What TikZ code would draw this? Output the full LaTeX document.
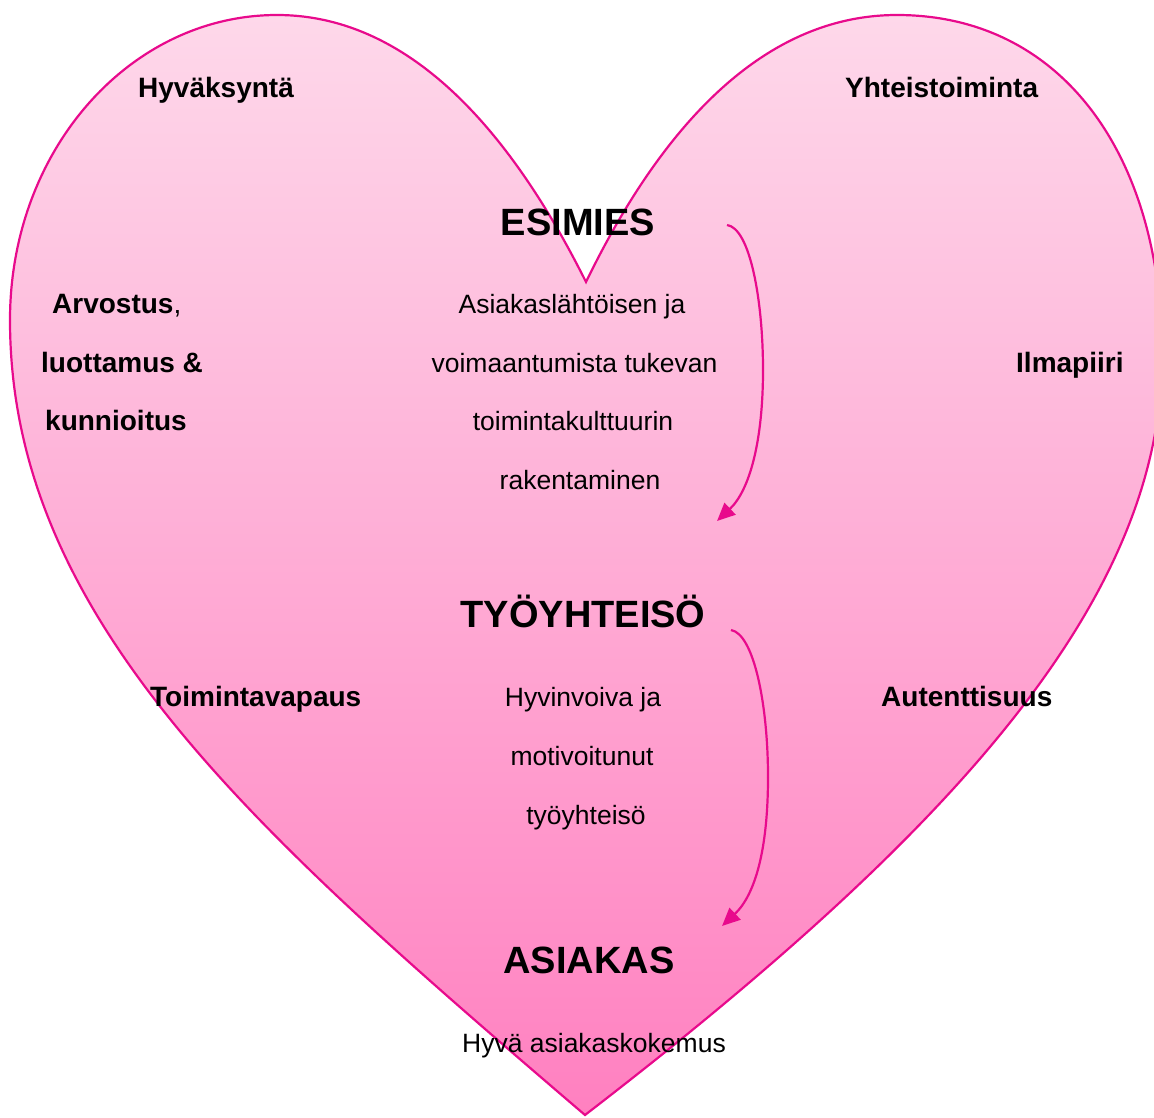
\documentclass[tikz,border=0pt]{standalone}
\usepackage{fontspec}
\setmainfont{Liberation Sans}
\usetikzlibrary{arrows.meta}
\definecolor{heartline}{RGB}{232,10,140}
\definecolor{heartTop}{RGB}{254,216,234}
\definecolor{heartBottom}{RGB}{255,128,192}
\tikzset{
  sidelabel/.style={anchor=base west, inner sep=0pt, font=\fontsize{28}{34}\selectfont\bfseries},
  headlabel/.style={anchor=base, inner sep=0pt, font=\fontsize{38}{46}\selectfont\bfseries},
  bodylabel/.style={anchor=base, inner sep=0pt, font=\fontsize{26.5}{32}\selectfont},
  flowline/.style={draw=heartline, line width=2.2pt},
  flowarrow/.style={flowline, -{Triangle[length=18pt,width=16pt]}},
}
\begin{document}
\begin{tikzpicture}[x=1pt,y=-1pt]
\useasboundingbox (0,0) rectangle (1154,1117);
\clip (0,0) rectangle (1154,1117);
% heart
\path[draw=heartline, line width=2.2pt, top color=heartTop, bottom color=heartBottom]
  (585,1115) .. controls (258,835) and (10,620) .. (10,320)
  .. controls (10,150) and (130,15) .. (277,15)
  .. controls (420,15) and (520,150) .. (586,282)
  .. controls (650,150) and (750,15) .. (897,15)
  .. controls (1065,15) and (1164,160) .. (1162,360)
  .. controls (1160,600) and (955,830) .. (585,1115) -- cycle;
% side labels
\node[sidelabel] (hyv) at (138,97) {Hyväksyntä};
\node[sidelabel] (yht) at (845,97) {Yhteistoiminta};
\node[sidelabel] (arv) at (52,313) {Arvostus\mdseries,};
\node[sidelabel] (luo) at (41,372) {luottamus \&};
\node[sidelabel] (kun) at (45,430) {kunnioitus};
\node[sidelabel] (ilm) at (1016,372) {Ilmapiiri};
\node[sidelabel] (toi) at (150,706) {Toimintavapaus};
\node[sidelabel] (aut) at (881,706) {Autenttisuus};
% headings
\node[headlabel] (esi) at (578,235) {ESIMIES};
\node[headlabel] (tyo) at (583,627) {TYÖYHTEISÖ};
\node[headlabel] (asi) at (589,973) {ASIAKAS};
% body text
\node[bodylabel] (b1) at (572,313) {Asiakaslähtöisen ja};
\node[bodylabel] (b2) at (574.5,372) {voimaantumista tukevan};
\node[bodylabel] (b3) at (573,430) {toimintakulttuurin};
\node[bodylabel] (b4) at (580,489) {rakentaminen};
\node[bodylabel] (c1) at (583,706) {Hyvinvoiva ja};
\node[bodylabel] (c2) at (582,765) {motivoitunut};
\node[bodylabel] (c3) at (586,824) {työyhteisö};
\node[bodylabel] (d1) at (594,1052) {Hyvä asiakaskokemus};
% arrows
\coordinate (a1s) at (727,225);
\coordinate (a1m) at (763,370);
\coordinate (a1e) at (717,521);
\coordinate (a2s) at (731,630);
\coordinate (a2m) at (768,777);
\coordinate (a2e) at (722,926);
\draw[flowline] (a1s) .. controls (750,228) and (763,300) .. (a1m);
\draw[flowarrow] (a1m) .. controls (763,440) and (750,490) .. (a1e);
\draw[flowline] (a2s) .. controls (754,634) and (768,705) .. (a2m);
\draw[flowarrow] (a2m) .. controls (768,850) and (755,895) .. (a2e);
\end{tikzpicture}
\end{document}
